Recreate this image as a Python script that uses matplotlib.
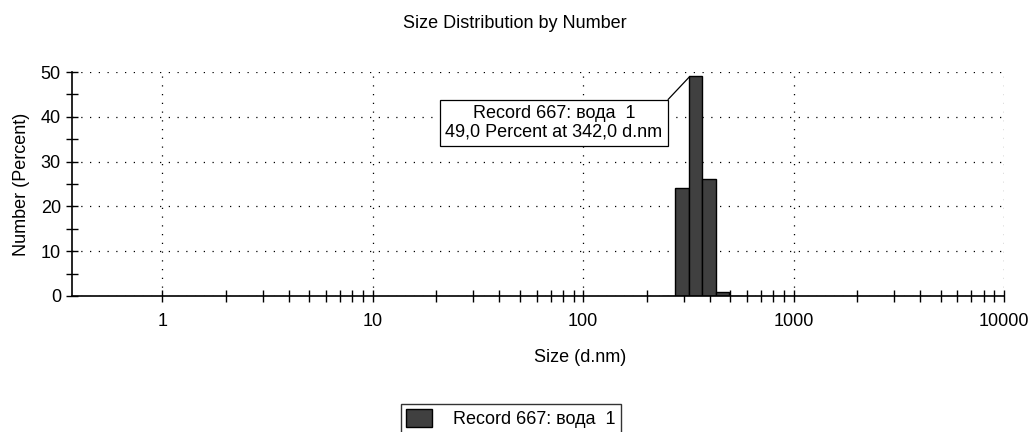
import numpy as np
import matplotlib.pyplot as plt
from matplotlib.ticker import FixedLocator, NullFormatter, MultipleLocator

plt.rcParams['font.family'] = ['Liberation Sans', 'DejaVu Sans']

# Malvern size classes (d.nm) and number distribution (%)
sizes = [255.0, 295.3, 342.0, 396.1, 458.7, 531.2]
percent = [0.0, 24.0, 49.0, 26.2, 0.8, 0.0]
record_name = 'Record 667: вода  1'
peak_text = '49,0 Percent at 342,0 d.nm'
x_ticks = [1, 10, 100, 1000, 10000]
y_ticks = [0, 10, 20, 30, 40, 50]

ratio = 1.1583  # class width ratio
sizes = np.array(sizes)
left = sizes / np.sqrt(ratio)
widths = left * ratio - left

fs = 13

fig = plt.figure(figsize=(10.32, 4.32), dpi=100)
ax = fig.add_axes([72 / 1032, 1 - 296 / 432, (1004 - 72) / 1032, (296 - 72) / 432])

ax.bar(left, percent, width=widths, align='edge', color='#404040',
       edgecolor='black', linewidth=1.0, label=record_name, zorder=3)

ax.set_xscale('log')
ax.set_xlim(0.3717, 10000)
ax.set_ylim(0, 50)
ax.xaxis.set_major_locator(FixedLocator(x_ticks))
ax.set_xticklabels([str(t) for t in x_ticks])
minor_x = [m * d for d in [1, 10, 100, 1000] for m in range(2, 10)]
ax.xaxis.set_minor_locator(FixedLocator(minor_x))
ax.xaxis.set_minor_formatter(NullFormatter())
ax.yaxis.set_major_locator(FixedLocator(y_ticks))
ax.yaxis.set_minor_locator(MultipleLocator(5))

ax.tick_params(which='both', direction='inout', length=8, width=1.0,
               labelsize=fs, colors='black', pad=4)
ax.tick_params(axis='x', which='major', pad=8)

for s in ['top', 'right']:
    ax.spines[s].set_visible(False)
for s in ['left', 'bottom']:
    ax.spines[s].set_linewidth(1.2)
    ax.spines[s].set_zorder(4)

ax.grid(True, which='major', linestyle=(0, (1, 6)), color='black', linewidth=0.9)
ax.set_axisbelow(True)

ax.set_title('Size Distribution by Number', fontsize=fs, pad=32, x=0.475)
ax.set_xlabel('Size (d.nm)', fontsize=fs)
ax.xaxis.set_label_coords(0.545, -0.235)
ax.set_ylabel('Number (Percent)', fontsize=fs, labelpad=8)

# peak annotation box
ax.annotate(record_name + '\n' + peak_text,
            xy=(left[2] * 1.01, 49.0), xycoords='data',
            xytext=(554 / 1032, 1 - 123 / 432), textcoords='figure fraction',
            ha='center', va='center', fontsize=fs, linespacing=1.1,
            bbox=dict(boxstyle='square,pad=0.3', fc='white', ec='black', lw=0.9),
            arrowprops=dict(arrowstyle='-', color='black', lw=0.9,
                            shrinkA=0, shrinkB=0, relpos=(1.0, 1.0)),
            zorder=5)

fig.legend(loc='upper center', bbox_to_anchor=(511 / 1032, 1 - 404 / 432),
           borderaxespad=0, frameon=True, fancybox=False, edgecolor='black',
           fontsize=fs, handlelength=1.4, handleheight=1.1, borderpad=0.3,
           handletextpad=1.2)

fig.savefig('out.png', dpi=100)
